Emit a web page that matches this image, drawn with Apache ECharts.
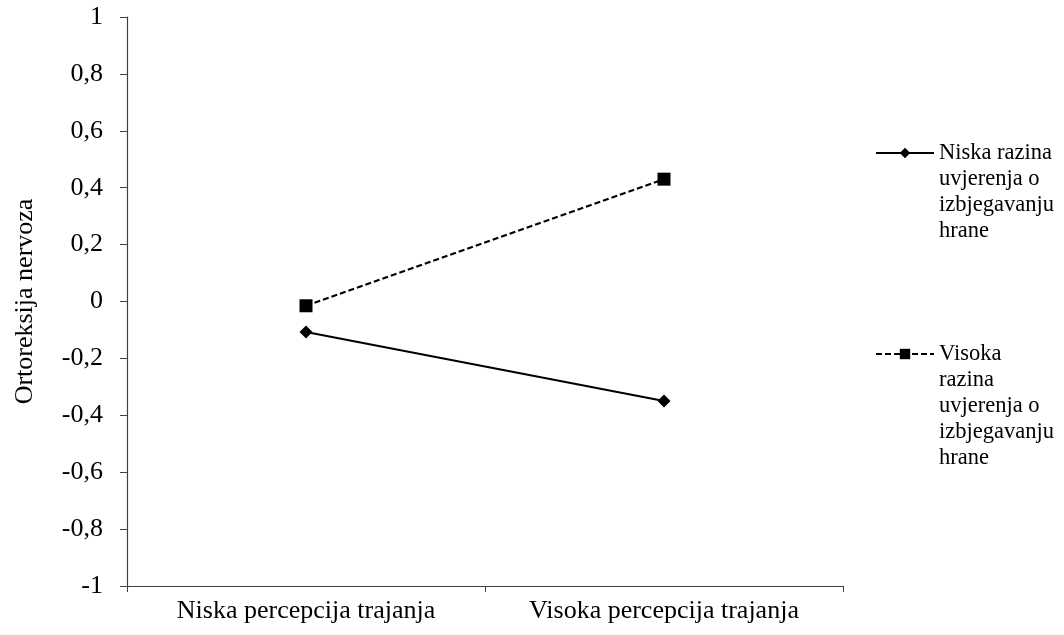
<!DOCTYPE html>
<html>
<head>
<meta charset="utf-8">
<script src="https://cdn.jsdelivr.net/npm/echarts@6/dist/echarts.min.js"></script>
<style>
html,body{margin:0;padding:0;background:#fff;}
#chart{width:1064px;height:635px;}
</style>
</head>
<body>
<div id="chart"></div>
<script>
var categories = ['Niska percepcija trajanja', 'Visoka percepcija trajanja'];
var seriesNames = ['Niska razina\nuvjerenja o\nizbjegavanju\nhrane', 'Visoka\nrazina\nuvjerenja o\nizbjegavanju\nhrane'];
var lowBelief = [-0.107, -0.35];
var highBelief = [-0.015, 0.43];
var yAxisName = 'Ortoreksija nervoza';

var font = 'Liberation Serif';
var LH = 26;
function padTop(name) {
  var n = name.split('\n').length;
  return new Array(n).join('\n') + name;
}
var chart = echarts.init(document.getElementById('chart'));
var legendBase = {
  orient: 'vertical',
  left: 875,
  padding: 0,
  itemWidth: 58,
  itemHeight: 13,
  itemGap: 0,
  formatter: padTop,
  textStyle: {fontFamily: font, fontSize: 22.5, color: '#000', lineHeight: LH}
};
chart.setOption({
  animation: false,
  backgroundColor: '#fff',
  grid: {left: 127, right: 221, top: 17, bottom: 49},
  legend: [
    Object.assign({}, legendBase, {top: 153 - 7 * LH / 2, data: [seriesNames[0]]}),
    Object.assign({}, legendBase, {top: 354 - 9 * LH / 2, data: [seriesNames[1]]})
  ],
  xAxis: {
    type: 'category',
    data: categories,
    boundaryGap: true,
    axisLine: {onZero: false, lineStyle: {color: '#404040', width: 1.2}},
    axisTick: {show: true, length: 6, lineStyle: {color: '#404040'}},
    axisLabel: {fontFamily: font, fontSize: 26, color: '#000', margin: 12}
  },
  yAxis: {
    type: 'value',
    min: -1, max: 1, interval: 0.2,
    name: yAxisName,
    nameLocation: 'middle',
    nameGap: 89,
    nameTextStyle: {fontFamily: font, fontSize: 26, color: '#000'},
    axisLine: {show: true, lineStyle: {color: '#404040', width: 1.2}},
    axisTick: {show: true, length: 7, lineStyle: {color: '#404040'}},
    splitLine: {show: false},
    axisLabel: {
      fontFamily: font, fontSize: 26, color: '#000', margin: 24,
      formatter: function (v) { return String(Number(v.toFixed(1))).replace('.', ','); }
    }
  },
  series: [
    {
      name: seriesNames[0], type: 'line', data: lowBelief,
      symbol: 'diamond', symbolSize: 13,
      itemStyle: {color: '#000'},
      lineStyle: {color: '#000', width: 2, type: 'solid'}
    },
    {
      name: seriesNames[1], type: 'line', data: highBelief,
      symbol: 'rect', symbolSize: 13,
      itemStyle: {color: '#000'},
      lineStyle: {color: '#000', width: 2.2, type: [6, 3]}
    }
  ]
});
</script>
</body>
</html>
